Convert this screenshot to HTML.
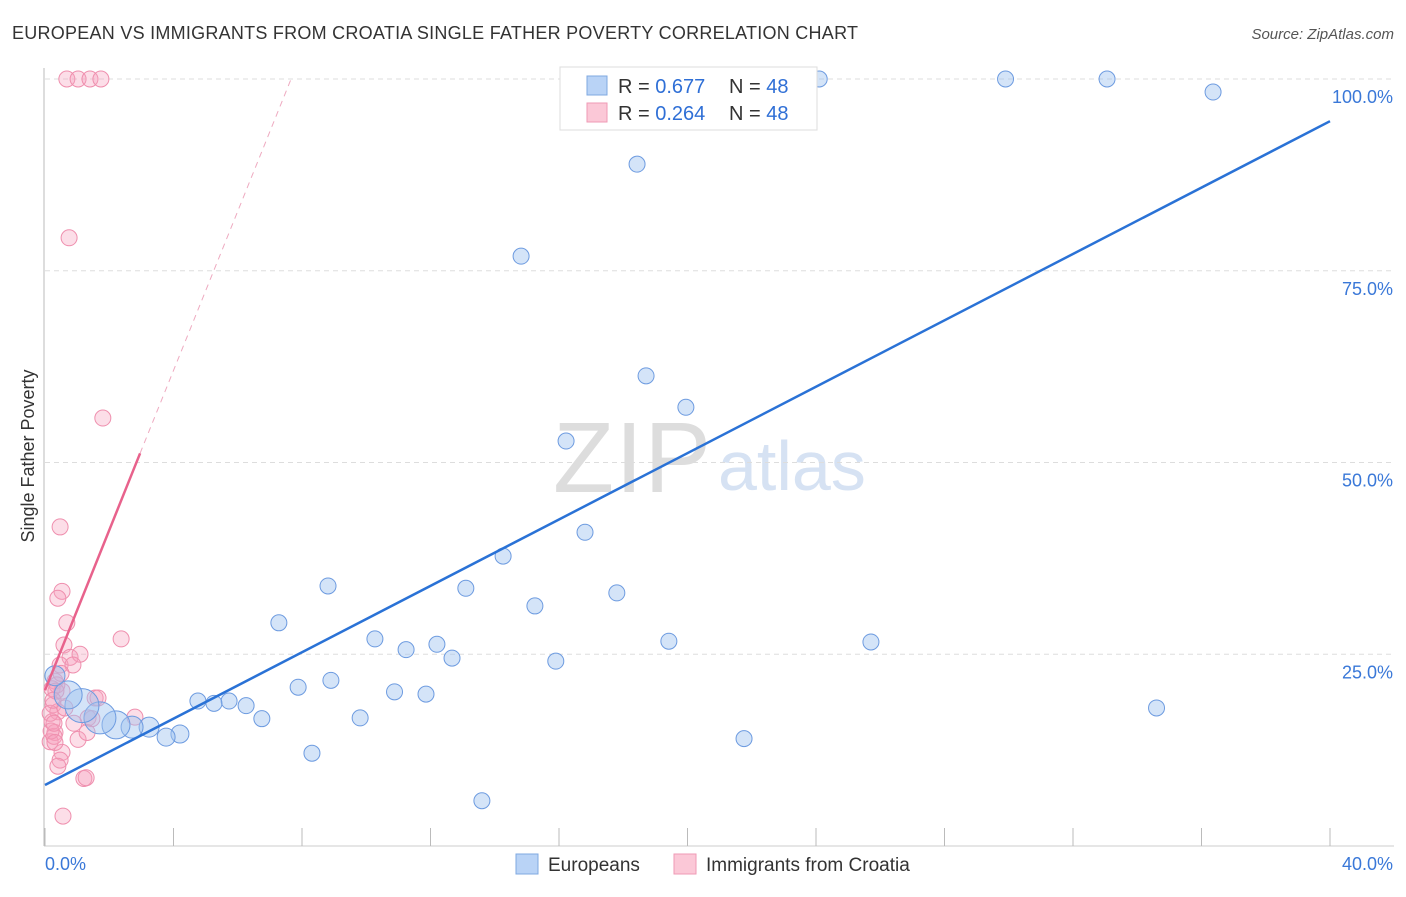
<!DOCTYPE html>
<html><head><meta charset="utf-8"><style>
body{margin:0;background:#fff;font-family:"Liberation Sans",sans-serif}
svg text{font-family:"Liberation Sans",sans-serif}
</style></head><body>
<svg width="1406" height="892" xmlns="http://www.w3.org/2000/svg">
<text x="12" y="39" font-size="18" fill="#333" textLength="846">EUROPEAN VS IMMIGRANTS FROM CROATIA SINGLE FATHER POVERTY CORRELATION CHART</text>
<text x="1394" y="39" font-size="15" fill="#555" font-style="italic" text-anchor="end">Source: ZipAtlas.com</text>
<text x="553" y="492" font-size="100" fill="#ddd" font-family="Liberation Serif" textLength="158">ZIP</text>
<text x="718" y="490" font-size="70" fill="#d6e2f3">atlas</text>
<g id="grid"></g>
<g id="marks"></g>
<text transform="translate(34,456) rotate(-90)" font-size="18" fill="#333" text-anchor="middle">Single Father Poverty</text>
<g>
<rect x="560" y="67" width="257" height="63" fill="#fff" stroke="#ddd"/>
<rect x="587" y="76" width="20" height="19" fill="#b9d3f6" stroke="#7fa8e0"/>
<rect x="587" y="103" width="20" height="19" fill="#fbc8d7" stroke="#ef9ab5"/>
<text x="618" y="93" font-size="20" fill="#333">R = <tspan fill="#2f6fd6">0.677</tspan></text>
<text x="729" y="93" font-size="20" fill="#333">N = <tspan fill="#2f6fd6">48</tspan></text>
<text x="618" y="120" font-size="20" fill="#333">R = <tspan fill="#2f6fd6">0.264</tspan></text>
<text x="729" y="120" font-size="20" fill="#333">N = <tspan fill="#2f6fd6">48</tspan></text>
</g>
<g>
<rect x="516" y="854" width="22" height="20" fill="#b9d3f6" stroke="#7fa8e0"/>
<text x="548" y="871" font-size="19" fill="#333">Europeans</text>
<rect x="674" y="854" width="22" height="20" fill="#fbc8d7" stroke="#ef9ab5"/>
<text x="706" y="871" font-size="19" fill="#333">Immigrants from Croatia</text>
</g>
</svg>
<script>
const yTicks=[25,50,75,100];
const yTickLabels=["25.0%","50.0%","75.0%","100.0%"];
const xTicks=[0,4,8,12,16,20,24,28,32,36,40];
const euroX=[24.1,29.9,33.06,36.36,20.9,18.43,14.82,18.71,19.95,16.22,16.81,14.26,17.8,15.25,13.1,8.81,7.28,10.27,11.24,12.2,12.67,15.9,19.42,25.71,34.6,21.76,13.6,8.31,9.81,8.9,7.88,10.88,11.86,6.75,6.26,5.73,5.26,4.76,4.2,3.77,3.24,2.71,2.21,1.71,1.15,0.72,0.31,21.0];
const euroY=[100,100,100,98.3,100,88.9,76.9,61.3,57.2,52.8,40.9,37.8,33.0,31.3,33.6,33.9,29.1,27.0,25.6,26.3,24.5,24.1,26.7,26.6,18.0,14.0,5.9,12.1,16.7,21.6,20.7,20.1,19.8,16.6,18.3,18.9,18.6,18.9,14.6,14.2,15.5,15.5,15.8,16.7,18.3,19.7,22.2,100];
const euroR=[8,8,8,8,8,8,8,8,8,8,8,8,8,8,8,8,8,8,8,8,8,8,8,8,8,8,8,8,8,8,8,8,8,8,8,8,8,8,9,9,10,11,14,16,17,14,10,8];
const croX=[0.68,1.03,1.4,1.74,0.75,1.8,0.47,0.53,0.4,0.68,2.37,0.59,0.78,1.09,0.47,0.87,0.31,0.22,0.53,1.56,1.65,0.25,0.4,1.34,1.46,2.8,0.22,0.31,0.16,0.28,1.03,1.31,0.53,0.47,0.4,1.21,1.28,0.56,0.37,0.34,0.16,0.19,0.25,0.31,0.5,0.28,0.62,0.9];
const croY=[100,100,100,100,79.3,55.8,41.6,33.2,32.3,29.1,27.0,26.2,24.6,25.0,23.6,23.6,21.5,20.5,20.2,19.3,19.3,18.4,17.5,16.7,16.6,16.8,16.2,14.8,13.6,14.3,13.9,14.8,12.2,11.2,10.4,8.8,8.9,3.9,21.0,20.2,17.3,15.0,19.0,13.5,22.5,16.0,18.0,16.0];
const blueLine=[[0,7.95],[40,94.5]];
const pinkSolid=[[0,20.3],[2.96,51.2]];
const pinkDash=[[2.96,51.2],[7.66,100]];
const X=v=>45+v/40*1285, Y=v=>846-v*7.67;
const NS="http://www.w3.org/2000/svg";
function mk(tag,attrs,parent){const e=document.createElementNS(NS,tag);for(const k in attrs)e.setAttribute(k,attrs[k]);parent.appendChild(e);return e;}
const grid=document.getElementById('grid'),marks=document.getElementById('marks');
yTicks.forEach((t,i)=>{
 const l=mk('line',{x1:45,x2:1394,y1:Y(t),y2:Y(t),stroke:'#ddd','stroke-dasharray':'5,4'},grid);
 
 
 const tx=mk('text',{x:1393,y:Y(t)+24,'font-size':18,fill:'#3a78d8','text-anchor':'end'},grid);
 tx.textContent=yTickLabels[i];
 
 
});
mk('line',{x1:44,x2:44,y1:68,y2:846,stroke:'#bbb'},grid);
mk('line',{x1:44,x2:1394,y1:846,y2:846,stroke:'#ccc'},grid);
xTicks.forEach(t=>{const l=mk('line',{x1:X(t),x2:X(t),y1:828,y2:846,stroke:'#bbb'},grid);
 
 });
let a=mk('text',{x:45,y:870,'font-size':18,fill:'#3a78d8'},grid);a.textContent='0.0%';


a=mk('text',{x:1393,y:870,'font-size':18,fill:'#3a78d8','text-anchor':'end'},grid);a.textContent='40.0%';


croX.forEach((v,i)=>{const c=mk('circle',{cx:X(v),cy:Y(croY[i]),r:8,fill:'rgba(247,160,188,0.35)',stroke:'#ef8fae','stroke-width':1},marks);
 
 });
euroX.forEach((v,i)=>{const c=mk('circle',{cx:X(v),cy:Y(euroY[i]),r:euroR[i],fill:'rgba(160,195,240,0.45)',stroke:'#6d9be0','stroke-width':1},marks);
 
 });
let ln=mk('line',{x1:X(blueLine[0][0]),y1:Y(blueLine[0][1]),x2:X(blueLine[1][0]),y2:Y(blueLine[1][1]),stroke:'#2a72d6','stroke-width':2.5},marks);


ln=mk('line',{x1:X(pinkSolid[0][0]),y1:Y(pinkSolid[0][1]),x2:X(pinkSolid[1][0]),y2:Y(pinkSolid[1][1]),stroke:'#e8628c','stroke-width':2.5},marks);


ln=mk('line',{x1:X(pinkDash[0][0]),y1:Y(pinkDash[0][1]),x2:X(pinkDash[1][0]),y2:Y(pinkDash[1][1]),stroke:'#eeaac0','stroke-width':1,'stroke-dasharray':'6,5'},marks);


</script>
</body></html>
